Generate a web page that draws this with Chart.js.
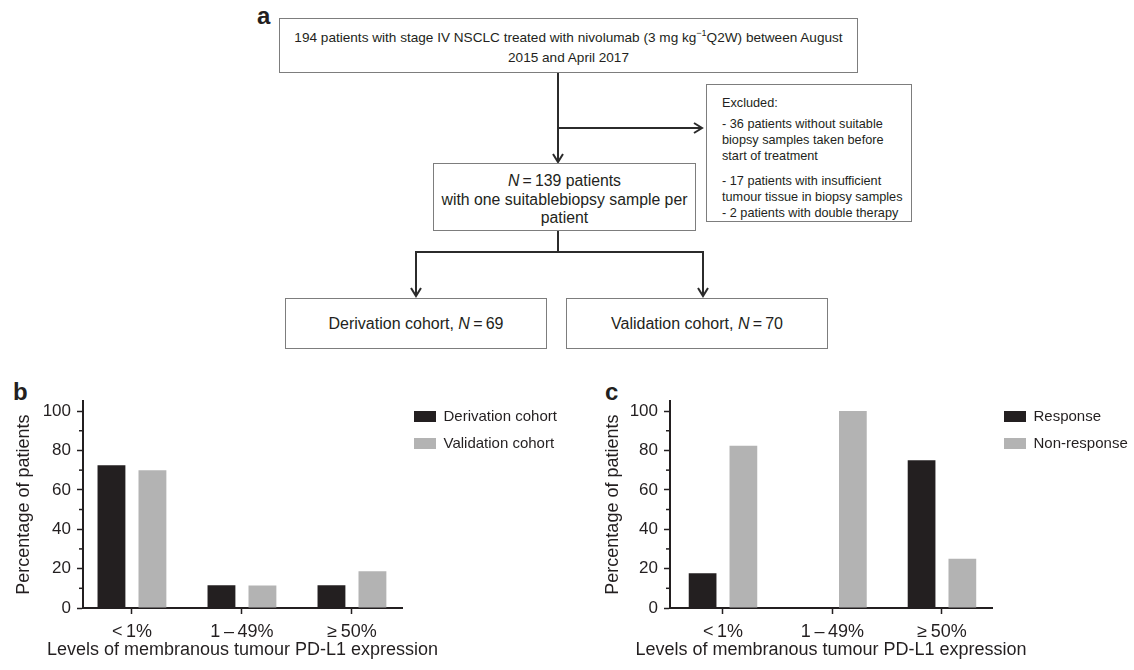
<!DOCTYPE html>
<html>
<head>
<meta charset="utf-8">
<script src="https://cdn.jsdelivr.net/npm/chart.js@4.4.1/dist/chart.umd.min.js"></script>
<style>
html, body { margin: 0; padding: 0; background: #fff; }
#page { position: relative; width: 1134px; height: 670px; overflow: hidden;
        font-family: "Liberation Sans", Arial, Helvetica, sans-serif; color: #231f20; }
.box { position: absolute; box-sizing: border-box; border: 1.3px solid #7d7d7d; background: #fff; }
.center { text-align: center; }
.panel { position: absolute; font-weight: bold; font-size: 24px; line-height: 24px; }
.ex p { margin: 0; }
canvas { position: absolute; }
svg { position: absolute; left: 0; top: 0; }
</style>
</head>
<body>
<div id="page">
  <div class="panel" style="left:257px;top:4px">a</div>
  <div class="panel" style="left:13px;top:380px">b</div>
  <div class="panel" style="left:605px;top:380px">c</div>

  <svg width="1134" height="380">
    <g fill="none" stroke="#2b2b2b" stroke-width="2">
      <line x1="558" y1="73" x2="558" y2="162"/>
      <polyline points="553,154 558,162 563,154"/>
      <line x1="558" y1="128" x2="702" y2="128"/>
      <polyline points="694,123 702,128 694,133"/>
      <line x1="558" y1="231" x2="558" y2="252"/>
      <polyline points="416,296 416,252 703,252 703,296"/>
      <polyline points="411,288 416,296 421,288"/>
      <polyline points="698,288 703,296 708,288"/>
    </g>
  </svg>

  <div class="box center" style="left:279px;top:18px;width:579px;height:55px;font-size:13.6px;line-height:20px;padding-top:9px">
    194 patients with stage IV NSCLC treated with nivolumab (3 mg kg<sup style="font-size:9px;line-height:0">−1</sup>Q2W) between August<br>2015 and April 2017
  </div>

  <div class="box ex" style="left:706px;top:84px;width:206px;height:138px;font-size:12.7px;line-height:16px;padding:10px 0 0 15px">
    <p>Excluded:</p>
    <p style="margin-top:5px">- 36 patients without suitable<br>biopsy samples taken before<br>start of treatment</p>
    <p style="margin-top:9px">- 17 patients with insufficient<br>tumour tissue in biopsy samples</p>
    <p>- 2 patients with double therapy</p>
  </div>

  <div class="box center" style="left:433px;top:163px;width:263px;height:68px;font-size:15.8px;line-height:18.5px;padding-top:8px">
    <i>N</i>&#8201;=&#8201;139 patients<br>with one suitablebiopsy sample per<br>patient
  </div>

  <div class="box center" style="left:285px;top:298px;width:262px;height:51px;font-size:16px;line-height:49px">
    Derivation cohort, <i>N</i>&#8201;=&#8201;69
  </div>
  <div class="box center" style="left:566px;top:298px;width:262px;height:51px;font-size:16px;line-height:49px">
    Validation cohort, <i>N</i>&#8201;=&#8201;70
  </div>

  <canvas id="chartB" width="600" height="285" style="left:0;top:385px"></canvas>
  <canvas id="chartC" width="570" height="285" style="left:590px;top:385px"></canvas>
</div>

<script>
// values (percent of patients)
var categories = ['<\u20091%', '1\u2009\u2013\u200949%', '\u2265\u200950%'];
var derivationValues = [72.5, 11.6, 11.6];
var validationValues = [70.0, 11.4, 18.6];
var responseValues = [17.6, 0, 75.0];
var nonResponseValues = [82.4, 100, 25.0];
var yTicks = [0, 20, 40, 60, 80, 100];
var yMinorTicks = [10, 30, 50, 70, 90];
var xTitle = 'Levels of membranous tumour PD-L1 expression';

var ink = '#231f20';
var dark = '#231f20';
var grey = '#b3b3b3';
var fontFamily = '"Liberation Sans", Arial, Helvetica, sans-serif';
var legendFont = 15, legendBox = 22, legendPad = 12;

Chart.defaults.font.family = fontFamily;
Chart.defaults.color = ink;

// small unlabeled ticks between the major y ticks, plus the x title
// (the built-in title gets squeezed to the axis width)
var extras = {
  id: 'extras',
  afterDraw: function (chart) {
    var y = chart.scales.y;
    var ctx = chart.ctx;
    var area = chart.chartArea;
    ctx.save();
    ctx.strokeStyle = ink;
    ctx.lineWidth = 1.5;
    yMinorTicks.forEach(function (v) {
      var p = y.getPixelForValue(v);
      ctx.beginPath();
      ctx.moveTo(area.left - 4, p);
      ctx.lineTo(area.left, p);
      ctx.stroke();
    });
    ctx.fillStyle = ink;
    ctx.font = '18px ' + fontFamily;
    ctx.textAlign = 'center';
    ctx.textBaseline = 'middle';
    ctx.fillText(xTitle, (area.left + area.right) / 2, chart.height - 19.5);
    ctx.restore();
  }
};

// width chart.js will give a right-hand legend, so the plot can end where wanted
function legendWidth(names) {
  var c = document.createElement('canvas').getContext('2d');
  c.font = legendFont + 'px ' + fontFamily;
  var w = 0;
  names.forEach(function (n) { w = Math.max(w, c.measureText(n).width); });
  return legendPad + legendBox + legendFont / 2 + w + 10;
}

function points(values) {
  return values.map(function (v, i) { return { x: i, y: v }; });
}

function makeChart(id, names, first, second, xMin, xMax, yWidth, titlePad, plotRight) {
  var canvas = document.getElementById(id);
  var padRight = canvas.width - plotRight - legendWidth(names);
  return new Chart(canvas, {
    type: 'bar',
    data: {
      datasets: [
        { label: names[0], data: points(first), backgroundColor: dark, borderWidth: 0 },
        { label: names[1], data: points(second), backgroundColor: grey, borderWidth: 0 }
      ]
    },
    options: {
      responsive: false,
      animation: false,
      devicePixelRatio: 1,
      events: [],
      categoryPercentage: 0.745,
      barPercentage: 0.68,
      layout: { padding: { top: 12, right: padRight, bottom: 0, left: 0 } },
      plugins: {
        tooltip: { enabled: false },
        legend: {
          position: 'right',
          align: 'start',
          maxWidth: 400,
          labels: { boxWidth: legendBox, boxHeight: 11, padding: legendPad, color: ink, font: { size: legendFont } }
        }
      },
      scales: {
        x: {
          type: 'linear',
          min: xMin,
          max: xMax,
          offset: false,
          afterBuildTicks: function (s) {
            s.ticks = categories.map(function (c, i) { return { value: i }; });
          },
          afterFit: function (s) { s.height = 62; },
          ticks: {
            autoSkip: false, maxRotation: 0, padding: 7, color: ink, font: { size: 18 },
            callback: function (v) { return categories[v]; }
          },
          grid: { drawOnChartArea: false, drawTicks: true, tickLength: 6, tickColor: ink, tickWidth: 1.5, offset: false },
          border: { display: true, color: ink, width: 2 }
        },
        y: {
          min: 0,
          max: 105,
          afterBuildTicks: function (s) {
            s.ticks = yTicks.map(function (v) { return { value: v }; });
          },
          afterFit: function (s) { s.width = yWidth; },
          ticks: { padding: 6, color: ink, font: { size: 17 } },
          grid: { drawOnChartArea: false, drawTicks: true, tickLength: 6, tickColor: ink, tickWidth: 1.5 },
          border: { display: true, color: ink, width: 2 },
          title: {
            display: true, text: 'Percentage of patients',
            color: ink, font: { size: 18 }, padding: { top: titlePad, bottom: 0 }
          }
        }
      }
    },
    plugins: [extras]
  });
}

makeChart('chartB', ['Derivation cohort', 'Validation cohort'],
  derivationValues, validationValues, -0.445, 2.455, 83, 13, 402);
makeChart('chartC', ['Response', 'Non-response'],
  responseValues, nonResponseValues, -0.484, 2.457, 80, 12, 402);
</script>
</body>
</html>
